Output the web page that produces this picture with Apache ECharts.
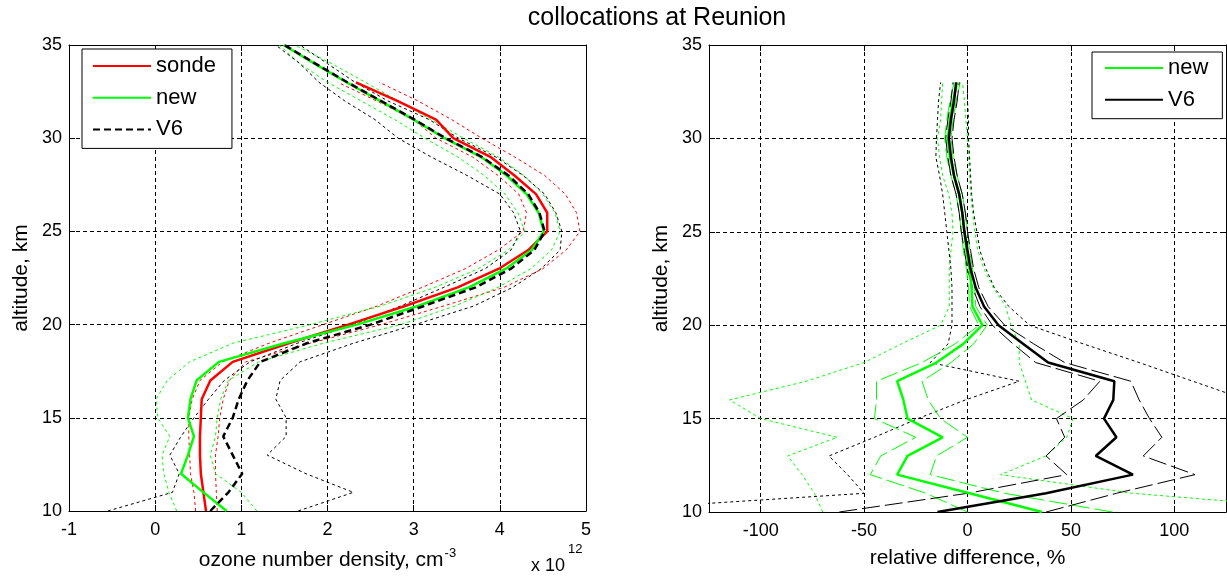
<!DOCTYPE html>
<html>
<head>
<meta charset="utf-8">
<script src="https://cdn.jsdelivr.net/npm/echarts@6/dist/echarts.min.js"></script>
<style>
html,body{margin:0;padding:0;background:#fff;}
#chart{width:1227px;height:576px;}
</style>
</head>
<body>
<div id="chart"></div>
<script>
// ---------- DATA ----------
// Left panel: ozone number density (x 1e12 cm^-3) vs altitude (km)
const altFull = [10,11,12,13,14,15,16,17,18,19,20,21,22,23,24,25,26,27,28,29,30,31,32,33,34,35];
const altSonde = [10,11,12,13,14,15,16,17,18,19,20,21,22,23,24,25,26,27,28,29,30,31,32,33];

const sonde   = [0.59,0.56,0.53,0.52,0.52,0.53,0.54,0.64,0.90,1.55,2.24,2.90,3.51,3.99,4.33,4.55,4.55,4.42,4.17,3.89,3.46,3.26,2.81,2.33];
const sondeLo = [0.47,0.45,0.41,0.40,0.39,0.39,0.43,0.52,0.78,1.32,1.95,2.58,3.10,3.60,3.98,4.27,4.31,4.22,3.98,3.68,3.26,3.00,2.57,2.12];
const sondeHi = [0.72,0.71,0.70,0.70,0.73,0.75,0.79,0.86,1.05,1.80,2.62,3.35,4.05,4.50,4.77,4.93,4.89,4.76,4.52,4.17,3.79,3.44,3.05,2.60];

const newDens   = [0.83,0.56,0.30,0.38,0.45,0.38,0.41,0.48,0.74,1.50,2.34,3.05,3.64,4.07,4.37,4.51,4.45,4.31,4.08,3.78,3.36,3.00,2.61,2.22,1.85,1.49];
const newDensLo = [0.25,0.16,0.10,0.08,0.17,0.03,0.01,0.14,0.40,0.90,1.80,2.62,3.25,3.75,4.10,4.29,4.21,4.06,3.82,3.51,3.13,2.78,2.39,2.00,1.68,1.44];
const newDensHi = [1.18,1.00,0.70,0.64,0.70,0.72,0.76,0.85,1.20,1.95,2.85,3.48,3.98,4.36,4.60,4.70,4.64,4.50,4.28,3.98,3.58,3.20,2.82,2.44,2.05,1.62];

const v6Dens   = [0.64,0.85,1.01,0.90,0.79,0.90,0.97,1.07,1.22,1.76,2.50,3.12,3.72,4.13,4.40,4.52,4.46,4.33,4.10,3.79,3.37,3.01,2.62,2.23,1.86,1.50];
const v6DensLo = [-0.55,0.20,0.28,0.17,0.30,0.45,0.62,0.80,1.10,1.65,2.30,2.85,3.35,3.83,4.13,4.24,4.16,4.00,3.62,3.20,2.82,2.55,2.20,1.90,1.68,1.40];
const v6DensHi = [1.66,2.30,1.75,1.30,1.52,1.52,1.40,1.45,1.68,2.30,3.02,3.70,4.15,4.48,4.70,4.72,4.65,4.52,4.27,3.95,3.52,3.18,2.70,2.32,2.00,1.68];

// Right panel: relative difference (%) vs altitude (km)
const altDiff = [10,11,12,13,14,15,16,17,18,19,20,21,22,23,24,25,26,27,28,29,30,31,32,33];

const newDiff      = [36,1,-34,-29,-12,-29,-31,-34,-15,-2,7.2,2.4,2,1,-0.5,-1.5,-2.5,-4,-6.5,-8.5,-9.5,-8.5,-7,-5];
const newDiffInLo  = [0,-20,-47,-42,-25,-45,-44,-44,-22,-6,5.5,1,0.5,-0.5,-2,-3,-4,-5.5,-8,-10,-11,-10,-8.5,-6.5];
const newDiffInHi  = [70,18,-18,-15,0,-13,-19,-22,-8,3,9.5,4,3.5,2.5,1,0,-1,-2.5,-5,-7,-8,-7,-5.5,-3.5];
const newDiffOutLo = [-70,-74,-80,-87,-63,-100,-115,-78,-50,-32,-13,-8.8,-8.8,-8.8,-8,-7,-7.5,-9,-12,-13.5,-14.5,-13,-12.5,-12];
const newDiffOutHi = [190,80,16,38,48,51,31,28,25,25,21,18.5,12.5,8,5,3.5,2.5,1.5,1,0.5,0,-0.8,-1.5,-2.4];

const v6Diff      = [-14.5,38,80,62,72,66,70.5,71,39,27,15,8,4,1.5,0,-1.5,-2.5,-4,-6.5,-8,-9,-8,-6.5,-5.5];
const v6DiffInLo  = [-62,0,48,38,47,43,56,64,33,22,12,6,2.5,0,-1.5,-3,-4,-5.5,-8,-9.5,-10.5,-9.5,-8,-7];
const v6DiffInHi  = [38,72,110,85,94,88,83,79,47,32,18,10,5.5,3,1.5,0,-1,-2.5,-5,-6.5,-7.5,-6.5,-5,-4];
const v6DiffOutLo = [-190,-50,-58,-67,-45,-24,-1,25,-18,-9.4,-7.5,-7.5,-7.5,-8,-9,-10,-11,-12,-13.5,-15.3,-15,-14.5,-14,-13];
const v6DiffOutHi = [160,160,160,150,150,145,135,109,83,56,30,20,13,9,6,4.5,3,2,1.5,1,0.5,0.5,0,0];

const xTicksDiff = [-100,-50,0,50,100];

// ---------- CHART ----------
const FONT = 'Liberation Sans, Arial, sans-serif';
const RED = '#ff0000', GREEN = '#00ff00', BLACK = '#000000';

function pairs(xs, ys){ return xs.map((v,i)=>[v, ys[i]]); }

function line(name, xs, ys, color, width, type, gi){
  return {
    type:'line', name:name, xAxisIndex: gi*2, yAxisIndex: gi*2,
    data: pairs(xs, ys), symbol:'none', showSymbol:false, clip:true,
    lineStyle:{color:color, width:width, type:type},
    itemStyle:{color:color}, emphasis:{disabled:true}, silent:true, z: width>1.5?5:3
  };
}

const gridDash = [4,3];
function xAx(gi, min, max, interval, pos, custom, name){
  const main = pos==='bottom';
  const ax = {
    type:'value', gridIndex:gi, position:pos, min:min, max:max,
    axisLine:{show:true, onZero:false, lineStyle:{color:'#000', width:1}},
    axisTick:{show:true, inside:true, length:6, lineStyle:{color:'#000', width:1}},
    axisLabel:{show:main, color:'#000', fontFamily:FONT, fontSize:18, margin:10},
    splitLine:{show:main, lineStyle:{color:'#000', width:1, type:gridDash}},
  };
  if (custom){ ax.axisTick.customValues = custom; ax.axisLabel.customValues = custom; }
  else { ax.interval = interval; }
  if (main && name){
    ax.name = name.text; ax.nameLocation='middle'; ax.nameGap = 36;
    ax.nameTextStyle = {color:'#000', fontFamily:FONT, fontSize:21, rich:name.rich};
  }
  return ax;
}
function yAx(gi, pos){
  const main = pos==='left';
  const ax = {
    type:'value', gridIndex:gi, position:pos, min:10, max:35, interval:5,
    axisLine:{show:true, onZero:false, lineStyle:{color:'#000', width:1}},
    axisTick:{show:true, inside:true, length:6, lineStyle:{color:'#000', width:1}},
    axisLabel:{show:main, color:'#000', fontFamily:FONT, fontSize:18, margin:7},
    splitLine:{show:main, lineStyle:{color:'#000', width:1, type:gridDash}},
  };
  if (main){
    ax.name='altitude, km'; ax.nameLocation='middle'; ax.nameGap=37;
    ax.nameTextStyle={color:'#000', fontFamily:FONT, fontSize:21};
  }
  return ax;
}

const TH = 2.5;
const series = [
  // left panel
  line('sonde lo', sondeLo, altSonde, RED, 1, [3,3], 0),
  line('sonde hi', sondeHi, altSonde, RED, 1, [3,3], 0),
  line('new lo', newDensLo, altFull, GREEN, 1, [3,3], 0),
  line('new hi', newDensHi, altFull, GREEN, 1, [3,3], 0),
  line('V6 lo', v6DensLo, altFull, BLACK, 1, [3,3], 0),
  line('V6 hi', v6DensHi, altFull, BLACK, 1, [3,3], 0),
  line('sonde', sonde, altSonde, RED, TH, 'solid', 0),
  line('new', newDens, altFull, GREEN, TH, 'solid', 0),
  line('V6', v6Dens, altFull, BLACK, TH, [7,4], 0),
  // right panel
  line('new out lo', newDiffOutLo, altDiff, GREEN, 1, [3,3], 1),
  line('new out hi', newDiffOutHi, altDiff, GREEN, 1, [3,3], 1),
  line('V6 out lo', v6DiffOutLo, altDiff, BLACK, 1, [3,3], 1),
  line('V6 out hi', v6DiffOutHi, altDiff, BLACK, 1, [3,3], 1),
  line('new in lo', newDiffInLo, altDiff, GREEN, 1, [18,5], 1),
  line('new in hi', newDiffInHi, altDiff, GREEN, 1, [18,5], 1),
  line('V6 in lo', v6DiffInLo, altDiff, BLACK, 1, [18,5], 1),
  line('V6 in hi', v6DiffInHi, altDiff, BLACK, 1, [18,5], 1),
  line('new ', newDiff, altDiff, GREEN, TH, 'solid', 1),
  line('V6 ', v6Diff, altDiff, BLACK, TH, 'solid', 1),
];

const legendBase = {
  orient:'vertical', itemWidth:58, itemHeight:14, itemGap:9.7,
  backgroundColor:'#fff', borderColor:'#000', borderWidth:1, borderRadius:0,
  textStyle:{color:'#000', fontFamily:FONT, fontSize:22, lineHeight:22},
  itemStyle:{opacity:0},
  formatter: n => n.trim(), selectedMode:false
};

const option = {
  animation:false,
  backgroundColor:'#fff',
  grid:[
    {left:69, top:45, width:517, height:467},
    {left:709, top:45, width:517, height:467}
  ],
  xAxis:[
    xAx(0,-1,5,1,'bottom',null,{text:'{a|ozone number density, cm}{s|-3}', rich:{a:{fontFamily:FONT,fontSize:21,color:'#000'}, s:{fontFamily:FONT,fontSize:13,color:'#000',padding:[0,0,14,1]}}}),
    xAx(0,-1,5,1,'top',null,null),
    xAx(1,-125,125,null,'bottom',xTicksDiff,{text:'relative difference, %', rich:{}}),
    xAx(1,-125,125,null,'top',xTicksDiff,null)
  ],
  yAxis:[ yAx(0,'left'), yAx(0,'right'), yAx(1,'left'), yAx(1,'right') ],
  legend:[
    Object.assign({}, legendBase, {left:82, top:49, padding:[6,16,8,10], data:['sonde','new','V6']}),
    Object.assign({}, legendBase, {left:1092, top:52, padding:[5,14,8,12], data:['new ','V6 ']})
  ],
  graphic:[
    {type:'text', x:657, y:6, style:{text:'collocations at Reunion', font:'25px '+FONT, fill:'#000', align:'center'}},
    {type:'text', x:531, y:557, style:{text:'x 10', font:'18px '+FONT, fill:'#000'}},
    {type:'text', x:568, y:543, style:{text:'12', font:'13px '+FONT, fill:'#000'}}
  ],
  series: series
};

const chart = echarts.init(document.getElementById('chart'), null, {renderer:'canvas'});
chart.setOption(option);
</script>
</body>
</html>
